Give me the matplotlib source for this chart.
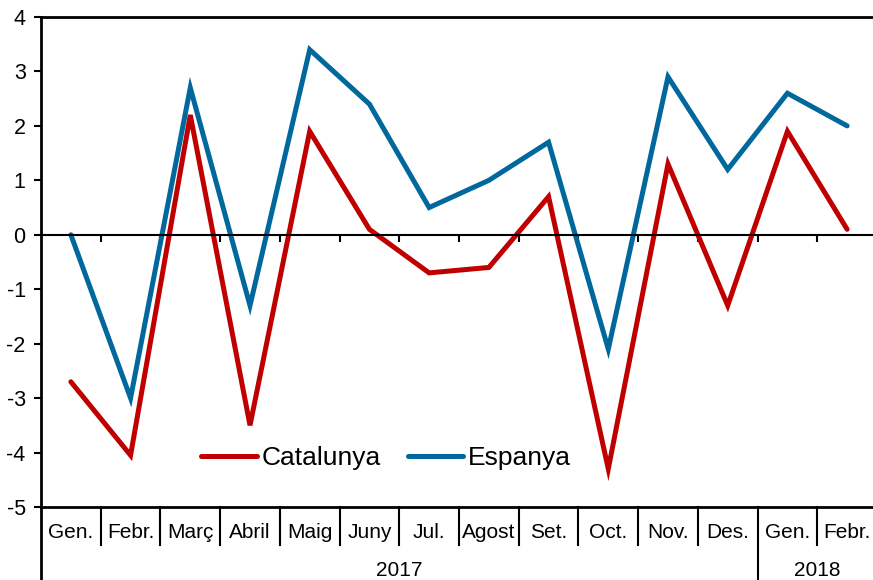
import numpy as np
import matplotlib
matplotlib.use("Agg")
import matplotlib.pyplot as plt
import matplotlib.transforms as mtransforms

plt.rcParams['font.family'] = ['Liberation Sans', 'DejaVu Sans']
plt.rcParams['axes.unicode_minus'] = False

months = ["Gen.", "Febr.", "Març", "Abril", "Maig", "Juny", "Jul.", "Agost",
          "Set.", "Oct.", "Nov.", "Des.", "Gen.", "Febr."]
years = ["2017", "2018"]
months_per_year = [12, 2]
catalunya = [-2.7, -4.05, 2.2, -3.5, 1.9, 0.1, -0.7, -0.6, 0.7, -4.3, 1.3, -1.3, 1.9, 0.1]
espanya = [0.0, -3.0, 2.7, -1.3, 3.4, 2.4, 0.5, 1.0, 1.7, -2.1, 2.9, 1.2, 2.6, 2.0]

RED = "#C00000"
BLUE = "#00689C"

fig = plt.figure(figsize=(8.73, 5.80), dpi=100)
ax = fig.add_axes([41 / 873, 73 / 580, 836 / 873, 490 / 580])

x = np.arange(len(months))
ax.plot(x, catalunya, color=RED, lw=3.6, solid_capstyle='round', solid_joinstyle='miter', label="Catalunya")
ax.plot(x, espanya, color=BLUE, lw=3.6, solid_capstyle='round', solid_joinstyle='miter', label="Espanya")

ax.set_xlim(-0.5, len(months) - 0.5)
ax.set_ylim(-5, 4)
ax.set_yticks(range(-5, 5))
ax.tick_params(axis='y', direction='out', length=5, width=1.5, labelsize=15.5, pad=6)

# zero line acts as x axis with small ticks at category boundaries
ax.spines['bottom'].set_position(('data', 0))
ax.spines['bottom'].set_linewidth(1.5)
ax.set_xticks(np.arange(len(months) - 1) + 0.5)
ax.set_xticklabels([])
ax.tick_params(axis='x', direction='out', length=5, width=1.5)
ax.spines['right'].set_visible(False)
ax.spines['top'].set_linewidth(2)
ax.spines['left'].set_linewidth(2)
ax.axhline(-5, color='black', lw=2, clip_on=False)

trans = mtransforms.blended_transform_factory(ax.transData, ax.transAxes)
# left spine continues down through the category table
ax.plot([-0.5, -0.5], [0, -0.16], color='black', lw=2, transform=trans, clip_on=False)

# month labels and separators
for i, m in enumerate(months):
    ax.text(i, -0.053, m, transform=trans, ha='center', va='center', fontsize=15)
year_bounds = np.cumsum(months_per_year)[:-1] - 0.5
for b in np.arange(len(months) - 1) + 0.5:
    low = -0.16 if b in year_bounds else -0.078
    ax.plot([b, b], [0, low], color='black', lw=1.5, transform=trans, clip_on=False)

# year labels
start = 0
for yr, n in zip(years, months_per_year):
    ax.text(start + (n - 1) / 2, -0.129, yr, transform=trans, ha='center', va='center', fontsize=15)
    start += n

ax.legend(loc='center', bbox_to_anchor=(0.413, 0.1), ncol=2, frameon=False,
          fontsize=19, handlelength=2.1, handletextpad=0.2, columnspacing=1.0)

plt.savefig("out.png", dpi=100)
